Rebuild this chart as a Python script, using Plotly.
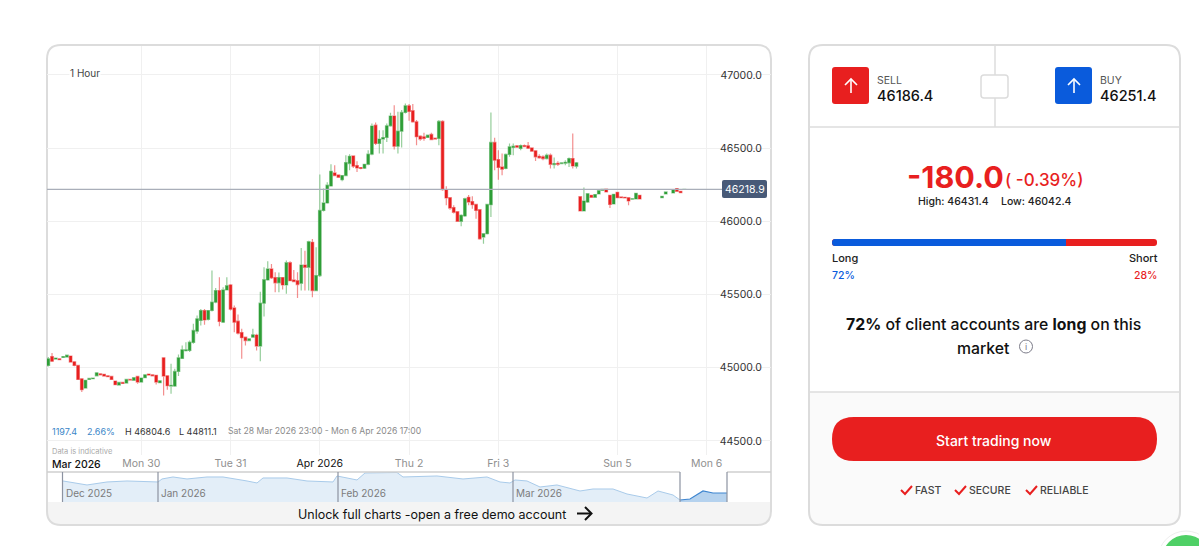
import plotly.graph_objects as go

W, H = 1199, 546
FONT = "Inter, Roboto, sans-serif"
RED = "#e81f1f"
BLUE = "#0a5bdc"
GREEN = "#2e9e37"

# hourly candles, None = no trade in that hour
opens = [45016, 45077, 45059, 45061, 45070, 45073, 45080, 45041, 45016, 44925, 44861, 44920, 44925, 44945, 44959, 44955,
         44945, 44941, 44909, 44882, 44900, 44895, 44920, 44914, 44941, 44902, 44932, 44957, 44952, 44948, 44898, 45068,
         44945, 44875, 44875, 44975, 45064, 45116, 45118, 45173, 45250, 45323, 45391, 45330, 45391, 45448, 45527, 45311,
         45532, 45566, 45409, 45318, 45241, 45209, 45186, 45209, 45223, 45148, 45441, 45600, 45675, 45616, 45580, 45616,
         45566, 45718, 45600, 45595, 45577, 45702, 45686, 45857, 45527, 45630, 46075, 46126, 46242, 46331, 46317, 46285,
         46313, 46395, 46447, 46381, 46368, 46363, 46390, 46459, 46657, 46532, 46562, 46573, 46653, 46719, 46514, 46616,
         46744, 46790, 46756, 46680, 46582, 46578, 46573, 46594, 46568, 46566, 46683, 46217, 46162, 46094, 46066, 46000,
         46037, 46164, 46135, 46116, 46080, 45893, 45916, 46114, 46539, 46422, 46372, 46361, 46457, 46505, 46516, 46498,
         46518, 46516, 46502, 46482, 46445, 46441, 46429, 46452, 46388, 46397, 46395, 46397, 46400, 46429, 46377, 46169,
         46071, 46132, 46178, 46164, 46187, 46212, 46221, 46178, 46119, 46199, 46167, 46164, 46162, 46151, 46153, 46178,
         None, None, None, None, None, 46162, 46187, None, 46194, 46224, 46205, 46218]
highs = [45073, 45100, 45070, 45064, 45079, 45088, 45084, 45043, 45018, 44928, 44918, 44930, 44932, 44970, 44961, 44957,
         44947, 44943, 44912, 44903, 44902, 44923, 44922, 44934, 44945, 44934, 44955, 44959, 44955, 44950, 44914, 45070,
         44948, 45027, 44993, 45091, 45152, 45175, 45186, 45300, 45357, 45402, 45402, 45395, 45664, 45545, 45618, 45550,
         45618, 45573, 45425, 45364, 45266, 45212, 45200, 45266, 45232, 45520, 45686, 45727, 45709, 45652, 45650, 45620,
         45732, 45727, 45668, 45652, 45818, 45800, 45868, 45880, 45823, 46320, 46225, 46268, 46390, 46384, 46320, 46316,
         46452, 46459, 46452, 46411, 46370, 46393, 46486, 46669, 46676, 46623, 46623, 46669, 46742, 46794, 46749, 46760,
         46804.6, 46801, 46801, 46692, 46589, 46605, 46592, 46605, 46570, 46692, 46690, 46240, 46167, 46110, 46070, 46048,
         46162, 46180, 46171, 46121, 46080, 45920, 46121, 46744, 46571, 46486, 46463, 46463, 46532, 46532, 46521, 46525,
         46525, 46543, 46505, 46484, 46459, 46452, 46463, 46463, 46436, 46411, 46402, 46418, 46436, 46600, 46406, 46172,
         46231, 46194, 46180, 46185, 46212, 46221, 46223, 46180, 46187, 46201, 46169, 46166, 46164, 46157, 46194, 46180,
         None, None, None, None, None, 46173, 46203, None, 46219, 46226, 46207, 46219]
lows = [45009, 45039, 45055, 45052, 45068, 45070, 45036, 45011, 44918, 44834, 44856, 44918, 44923, 44942, 44950, 44941,
        44936, 44918, 44880, 44880, 44891, 44893, 44914, 44911, 44891, 44898, 44930, 44948, 44943, 44886, 44895, 44811.1,
        44850, 44823, 44868, 44943, 45059, 45111, 45107, 45164, 45232, 45289, 45293, 45323, 45384, 45441, 45284, 45305,
        45527, 45391, 45243, 45227, 45061, 45152, 45184, 45205, 45118, 45045, 45350, 45595, 45607, 45516, 45516, 45534,
        45505, 45591, 45584, 45477, 45527, 45527, 45527, 45482, 45523, 45620, 46068, 46120, 46236, 46310, 46297, 46274,
        46308, 46349, 46365, 46338, 46356, 46358, 46384, 46452, 46521, 46463, 46463, 46543, 46646, 46491, 46463, 46505,
        46737, 46687, 46673, 46520, 46550, 46550, 46570, 46555, 46560, 46520, 46210, 46110, 46080, 46053, 45995, 45966,
        46030, 46110, 46087, 46018, 45875, 45847, 45911, 46030, 46349, 46285, 46315, 46356, 46441, 46452, 46505, 46486,
        46509, 46495, 46475, 46413, 46427, 46418, 46422, 46361, 46361, 46379, 46393, 46384, 46372, 46361, 46361, 46068,
        46068, 46126, 46162, 46162, 46185, 46210, 46199, 46091, 46116, 46160, 46160, 46158, 46110, 46149, 46151, 46151,
        None, None, None, None, None, 46160, 46185, None, 46192, 46203, 46194, 46218]
closes = [45061, 45045, 45066, 45055, 45077, 45086, 45039, 45016, 44920, 44850, 44914, 44927, 44930, 44966, 44952, 44943,
          44939, 44920, 44884, 44900, 44893, 44920, 44916, 44932, 44902, 44930, 44952, 44950, 44945, 44902, 44911, 44943,
          44877, 44880, 44975, 45068, 45123, 45123, 45175, 45255, 45334, 45391, 45327, 45391, 45448, 45527, 45316, 45532,
          45561, 45400, 45311, 45236, 45205, 45186, 45198, 45225, 45148, 45441, 45602, 45675, 45614, 45580, 45616, 45566,
          45718, 45595, 45589, 45568, 45702, 45686, 45861, 45527, 45630, 46075, 46126, 46247, 46342, 46313, 46301, 46313,
          46402, 46445, 46377, 46365, 46361, 46390, 46459, 46651, 46532, 46562, 46573, 46653, 46719, 46514, 46616, 46744,
          46790, 46751, 46680, 46578, 46562, 46566, 46589, 46559, 46562, 46683, 46217, 46160, 46091, 46062, 46000, 46041,
          46155, 46132, 46114, 46075, 45881, 45916, 46116, 46539, 46418, 46368, 46356, 46457, 46509, 46514, 46507, 46518,
          46511, 46500, 46479, 46441, 46434, 46429, 46452, 46390, 46395, 46390, 46400, 46404, 46429, 46379, 46400, 46071,
          46139, 46189, 46164, 46183, 46210, 46219, 46201, 46116, 46185, 46162, 46162, 46160, 46139, 46155, 46192, 46153,
          None, None, None, None, None, 46171, 46201, None, 46217, 46205, 46196, 46218.9]

day_ticks = [25, 49, 73, 97, 121, 153, 177]
day_labels = ["Mon 30", "Tue 31", "Apr 2026", "Thu 2", "Fri 3", "Sun 5", "Mon 6"]
price_ticks = [44500, 45000, 45500, 46000, 46500, 47000]
last_price = 46218.9

# overview strip, bar position and price
overview_pos = [16, 28, 40, 60, 80, 111, 115, 126, 140, 160, 176, 200, 210, 216, 240, 260, 286, 290, 310, 318, 326, 350,
                356, 380, 390, 416, 440, 453, 463, 468, 480, 493, 510, 533, 546, 566, 580, 600, 611, 626, 633]
overview_price = [48145, 47795, 47445, 47970, 48145, 47970, 48495, 48845, 48495, 48845, 48845, 48145, 47795, 48670, 48670,
                  48145, 47970, 49020, 48320, 49545, 49545, 49630, 48845, 49020, 49020, 48495, 48845, 47970, 47795, 48320,
                  48145, 47095, 47445, 46395, 46745, 46745, 45870, 45170, 46395, 45695, 44820]
selected_pos = [633, 643, 656, 666, 680]
selected_price = [44820, 44995, 46395, 46045, 46045]
month_pos = [15.5, 111, 291, 466]
month_labels = ["Dec 2025", "Jan 2026", "Feb 2026", "Mar 2026"]


def px(x):
    return x / W


def py(y):
    return 1 - y / H


def box_path(x0, y0, x1, y1, r, top=True):
    # rounded box in page pixels, top=False keeps the top corners square
    p = []
    if top:
        p.append(f"M{px(x0)},{py(y0 + r)} Q{px(x0)},{py(y0)} {px(x0 + r)},{py(y0)} L{px(x1 - r)},{py(y0)} Q{px(x1)},{py(y0)} {px(x1)},{py(y0 + r)}")
    else:
        p.append(f"M{px(x0)},{py(y0)} L{px(x1)},{py(y0)}")
    p.append(f"L{px(x1)},{py(y1 - r)} Q{px(x1)},{py(y1)} {px(x1 - r)},{py(y1)} L{px(x0 + r)},{py(y1)} Q{px(x0)},{py(y1)} {px(x0)},{py(y1 - r)} Z")
    return " ".join(p)


def line_path(points):
    return "M" + " L".join(f"{px(x)},{py(y)}" for x, y in points)


shapes = []
notes = []


def add_box(x0, y0, x1, y1, r, fill="rgba(0,0,0,0)", line=None, width=1.5, top=True, layer="below"):
    shapes.append(dict(type="path", xref="paper", yref="paper", path=box_path(x0, y0, x1, y1, r, top), fillcolor=fill,
                       line=dict(color=line or "rgba(0,0,0,0)", width=width if line else 0), layer=layer))


def add_line(points, color, width=1, layer="below"):
    shapes.append(dict(type="path", xref="paper", yref="paper", path=line_path(points),
                       line=dict(color=color, width=width), layer=layer))


def add_text(x, y, text, size, color="#222222", anchor="left", weight=400, bg=None):
    # annotations sit about a pixel inside their anchor
    nudge = {"left": -1, "right": 2, "center": 0}[anchor]
    notes.append(dict(x=px(x + nudge), y=py(y), xref="paper", yref="paper", text=text, showarrow=False, xanchor=anchor,
                      yanchor="middle", borderpad=0, bgcolor=bg,
                      font=dict(family=FONT, size=size, color=color, weight=weight)))


# chart card
add_box(47, 502, 771, 525, 14, fill="#f4f4f4", top=False)
add_box(47, 45, 771, 525, 14, line="#dcdcdc", width=2)
add_line([(47, 472), (680, 472)], "#cfcfcf", 1.5, layer="above")
add_line([(727, 472), (771, 472)], "#cfcfcf", 1.5, layer="above")
add_box(722, 180, 767, 198, 2, fill="#485a78", layer="above")
add_line([(577, 513.5), (591, 513.5)], "#111111", 2, layer="above")
add_line([(585, 507), (591.5, 513.5), (585, 520)], "#111111", 2, layer="above")

shapes.append(dict(type="line", xref="paper", yref="y", x0=px(47), x1=px(722), y0=last_price, y1=last_price,
                   line=dict(color="#a9aeb9", width=1.2), layer="above"))
for edge in month_pos + [633, 680]:
    shapes.append(dict(type="line", xref="x2", yref="y2", x0=edge, x1=edge, y0=44470, y1=49715,
                       line=dict(color="#8c93a1", width=1.2), layer="above"))

add_text(70, 73, "1 Hour", 10, "#444444", bg="#ffffff")
add_text(52, 431, "1197.4", 9, "#3b86c8")
add_text(87, 431, "2.66%", 9, "#3b86c8")
add_text(125, 431, "H 46804.6", 9, "#333333")
add_text(179, 431, "L 44811.1", 9, "#333333")
add_text(228, 431, "Sat 28 Mar 2026 23:00 - Mon 6 Apr 2026 17:00", 8.6, "#8a8a8a")
add_text(52, 451, "Data is indicative", 7.5, "#aaaaaa")
add_text(52, 464, "Mar 2026", 10.5, "#111111", weight=500)
add_text(744.5, 189, "46218.9", 10.5, "#ffffff", anchor="center")
for pos, label in zip(month_pos, month_labels):
    add_text(47 + pos + 3, 493, label, 10, "#7c7c7c")
add_text(298, 514, "Unlock full charts -open a free demo account", 12.5, "#111111")

# trade panel
add_box(809, 392, 1180, 525, 14, fill="#fafafa", top=False)
add_box(809, 45, 1180, 525, 14, line="#dcdcdc", width=2)
add_line([(809, 127), (1180, 127)], "#dcdcdc", 1.5)
add_line([(809, 392), (1180, 392)], "#dcdcdc", 1.5)
add_line([(995, 45), (995, 127)], "#dcdcdc", 1.5)
add_box(981, 75, 1008, 98, 3, fill="#ffffff", line="#dcdcdc", layer="above")
add_box(832, 67, 869, 104, 3, fill=RED, layer="above")
add_box(1055, 67, 1092, 104, 3, fill=BLUE, layer="above")
for cx in (851, 1074):
    add_line([(cx, 93), (cx, 79)], "#ffffff", 1.6, layer="above")
    add_line([(cx - 6, 85), (cx, 79), (cx + 6, 85)], "#ffffff", 1.6, layer="above")
add_text(877, 80, "SELL", 10.5, "#555555")
add_text(877, 95, "46186.4", 14.5, "#111111", weight=500)
add_text(1100, 80, "BUY", 10.5, "#555555")
add_text(1100, 95, "46251.4", 14.5, "#111111", weight=500)
add_text(907, 177, "-180.0", 30.5, RED, weight=700)
add_text(1005, 180, "( -0.39%)", 17, RED, weight=500)
add_text(918, 201, "High: 46431.4", 10.5, "#222222", weight=500)
add_text(1001, 201, "Low: 46042.4", 10.5, "#222222", weight=500)

add_box(832, 239, 1157, 246, 3, fill=RED)
shapes.append(dict(type="path", xref="paper", yref="paper", fillcolor=BLUE, line=dict(width=0), layer="above",
                   path=f"M{px(835)},{py(239)} L{px(1066)},{py(239)} L{px(1066)},{py(246)} L{px(835)},{py(246)} Q{px(832)},{py(246)} {px(832)},{py(242.5)} Q{px(832)},{py(239)} {px(835)},{py(239)} Z"))
add_text(832, 258, "Long", 11, "#222222", weight=500)
add_text(832, 275, "72%", 10.5, BLUE, weight=500)
add_text(1157, 258, "Short", 11, "#222222", anchor="right", weight=500)
add_text(1157, 275, "28%", 10.5, RED, anchor="right", weight=500)
add_text(994, 324, "<b>72%</b> of client accounts are <b>long</b> on this", 15.8, "#111111", anchor="center", weight=500)
add_text(983, 348, "market", 15.8, "#111111", anchor="center", weight=500)
shapes.append(dict(type="circle", xref="paper", yref="paper", x0=px(1019.5), x1=px(1032.5), y0=py(340), y1=py(353),
                   line=dict(color="#7d7d8a", width=1), layer="above"))
add_text(1026, 346.5, "i", 9, "#7d7d8a", anchor="center")

add_box(832, 417, 1157, 461, 22, fill=RED)
add_text(994, 440, "Start trading now", 14, "#ffffff", anchor="center", weight=500)
for x, label in zip((901, 955, 1026), ("FAST", "SECURE", "RELIABLE")):
    add_line([(x, 490), (x + 4, 494), (x + 11, 486)], RED, 2, layer="above")
    add_text(x + 14, 490.5, label, 10.5, "#444444", weight=500)

# chat bubble cut off by the window edge
shapes.append(dict(type="circle", xref="paper", yref="paper", x0=px(1158), x1=px(1214), y0=py(531), y1=py(587),
                   fillcolor="#ffffff", line=dict(color="#eeeeee", width=1), layer="above"))
shapes.append(dict(type="circle", xref="paper", yref="paper", x0=px(1162), x1=px(1210), y0=py(535), y1=py(583),
                   fillcolor="#4fd066", line=dict(width=0), layer="above"))

hours = list(range(len(opens)))
body_top = [None if o is None else max(o, c) for o, c in zip(opens, closes)]
body_bottom = [None if o is None else min(o, c) for o, c in zip(opens, closes)]

fig = go.Figure()
fig.add_trace(go.Candlestick(
    x=hours, open=opens, high=highs, low=lows, close=closes, whiskerwidth=0, hoverinfo="skip", showlegend=False,
    increasing=dict(line=dict(color="rgba(46,158,55,0.5)", width=1.2), fillcolor="rgba(0,0,0,0)"),
    decreasing=dict(line=dict(color="rgba(232,31,31,0.5)", width=1.2), fillcolor="rgba(0,0,0,0)"),
))
fig.add_trace(go.Candlestick(
    x=hours, open=opens, high=body_top, low=body_bottom, close=closes, whiskerwidth=0, hoverinfo="skip", showlegend=False,
    increasing=dict(line=dict(color=GREEN, width=0), fillcolor=GREEN),
    decreasing=dict(line=dict(color=RED, width=0), fillcolor=RED),
))
fig.add_trace(go.Scatter(
    x=overview_pos, y=overview_price, xaxis="x2", yaxis="y2", mode="lines", fill="tozeroy", fillcolor="#e3eef8",
    line=dict(color="#a9cbea", width=1), hoverinfo="skip", showlegend=False,
))
fig.add_trace(go.Scatter(
    x=selected_pos, y=selected_price, xaxis="x2", yaxis="y2", mode="lines", fill="tozeroy", fillcolor="#b5d2ee",
    line=dict(color="#3f86d0", width=1.2), hoverinfo="skip", showlegend=False,
))

tick_text = [f'<span style="color:#111111">{t}</span>' if "2026" in t else t for t in day_labels]

fig.update_layout(
    width=W,
    height=H,
    margin=dict(l=0, r=0, t=0, b=0, autoexpand=False),
    paper_bgcolor="#ffffff",
    plot_bgcolor="rgba(0,0,0,0)",
    font=dict(family=FONT),
    boxmode="overlay",
    boxgap=0,
    showlegend=False,
    shapes=shapes,
    annotations=notes,
    xaxis=dict(domain=[px(47), px(771)], range=[-0.35, 194.3], tickmode="array", tickvals=day_ticks, ticktext=tick_text,
               tickfont=dict(size=10.5, color="#8f8f8f"), showgrid=True, gridcolor="#f0f0f0", gridwidth=1,
               zeroline=False, showline=False, ticks="", rangeslider=dict(visible=False), fixedrange=True),
    yaxis=dict(domain=[py(455), py(46)], range=[44404, 47198], side="right", tickmode="array", tickvals=price_ticks,
               ticktext=[f"{p:.1f}" for p in price_ticks], ticklabelposition="inside", ticklabelstandoff=6,
               tickfont=dict(size=10.5, color="#333333"), showgrid=True, gridcolor="#f0f0f0", gridwidth=1,
               zeroline=False, showline=False, ticks="", fixedrange=True),
    xaxis2=dict(domain=[px(47), px(771)], range=[0, 724], anchor="y2", visible=False, fixedrange=True),
    yaxis2=dict(domain=[py(502), py(472)], range=[44470, 49715], anchor="x2", visible=False, fixedrange=True),
)

# page margin would push the figure 8px off the window
fig.write_html("out.html", config={"displayModeBar": False},
               post_script="document.body.style.margin='0';document.documentElement.style.overflow='hidden';")
